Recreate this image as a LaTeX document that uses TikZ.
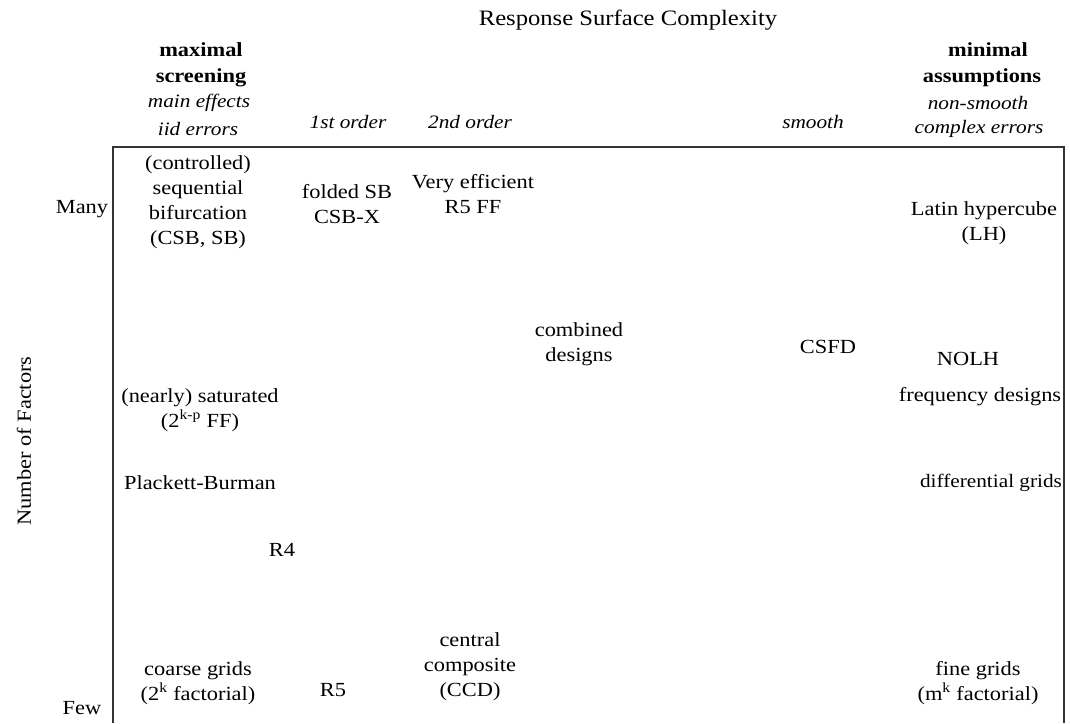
\documentclass[tikz,border=0pt]{standalone}
\usepackage{fontspec}
\setmainfont{Liberation Serif}[FakeStretch=1.12]
\begin{document}
\begin{tikzpicture}[x=1pt,y=-1pt,
  txt/.style={inner sep=0pt,align=center,font=\fontsize{20}{25}\selectfont},
  hdr/.style={inner sep=0pt,align=center,font=\fontsize{20}{25}\selectfont\bfseries},
  ital/.style={inner sep=0pt,align=center,font=\fontsize{19}{26}\selectfont\itshape},
  frame/.style={draw=black!80,line width=1.3pt}]
\useasboundingbox (0,0) rectangle (1070,723);
% frame
\coordinate (bl) at (113,723);
\coordinate (tl) at (113,147);
\coordinate (tr) at (1064,147);
\coordinate (br) at (1064,723);
\draw[frame] (bl) -- (tl) -- (tr) -- (br);
% headings
\node[txt,font=\fontsize{22}{25}\selectfont] (title) at (628,20) {Response Surface Complexity};
\node[hdr] (maximal) at (201,50) {maximal};
\node[hdr] (screening) at (201,78) {screening};
\node[ital] (maineff) at (199,103) {main effects};
\node[ital] (iid) at (198,129) {iid errors};
\node[ital] (first) at (348,122) {1st order};
\node[ital] (second) at (470,122) {2nd order};
\node[ital] (smooth) at (813,122) {smooth};
\node[hdr] (minimal) at (988,50) {minimal};
\node[hdr] (assump) at (982,78) {assumptions};
\node[ital] (nonsmooth) at (978,103) {non-smooth};
\node[ital] (complex) at (979,129) {complex errors};
% axis labels
\node[txt] (many) at (82,209) {Many};
\node[txt] (few) at (82,708) {Few};
\node[txt,rotate=90] (nfac) at (24,441) {Number of Factors};
% cells
\node[txt] (csb) at (198,202) {(controlled)\\sequential\\bifurcation\\(CSB, SB)};
\node[txt] (folded) at (347,204) {folded SB\\CSB-X};
\node[txt] (veff) at (473,194) {Very efficient\\R5 FF};
\node[txt] (lh) at (984,223) {Latin hypercube\\(LH)};
\node[txt] (combined) at (579,344) {combined\\designs};
\node[txt] (csfd) at (828,347) {CSFD};
\node[txt] (nolh) at (968,359) {NOLH};
\node[txt] (freq) at (980,397) {frequency designs};
\node[txt] (sat) at (200,410) {(nearly) saturated\\(2\textsuperscript{k-p} FF)};
\node[txt] (pb) at (200,483) {Plackett-Burman};
\node[txt,font=\fontsize{19}{25}\selectfont] (diff) at (991,483) {differential grids};
\node[txt] (r4) at (282,550) {R4};
\node[txt] (ccd) at (470,667) {central\\composite\\(CCD)};
\node[txt] (r5) at (333,690) {R5};
\node[txt] (coarse) at (198,683) {coarse grids\\(2\textsuperscript{k} factorial)};
\node[txt] (fine) at (978,683) {fine grids\\(m\textsuperscript{k} factorial)};
\end{tikzpicture}
\end{document}
